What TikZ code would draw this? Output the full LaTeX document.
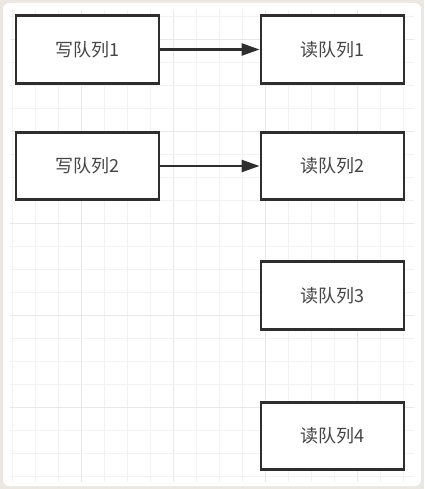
\documentclass[tikz,border=0pt]{standalone}
\usepackage{fontspec}
\newfontfamily\cjk{Noto Sans CJK SC}
\usetikzlibrary{arrows.meta}
\definecolor{frame}{HTML}{ECE8E1}
\definecolor{gridminor}{HTML}{F2F2F2}
\definecolor{gridmajor}{HTML}{E8E8E8}
\definecolor{ink}{HTML}{2E2E2E}
\definecolor{txt}{HTML}{454545}
\tikzset{
  qbox/.style={draw=ink, line width=2.8pt, fill=white, minimum width=143pt, minimum height=67.5pt, inner sep=0pt, font=\cjk\fontsize{18}{20}\selectfont, text=txt},
  link/.style={draw=ink, line width=2.4pt, -{Triangle[length=18pt,width=12pt]}}
}
\begin{document}
\begin{tikzpicture}[x=1pt,y=-1pt]
\useasboundingbox (0,0) rectangle (424,489);
\fill[frame] (0,0) rectangle (424,489);
\fill[white, rounded corners=6pt] (3,3) rectangle (421,486);
% grid
\foreach \i in {0,...,17} {
  \pgfmathsetmacro{\xx}{12.7+23*\i}
  \pgfmathtruncatemacro{\mj}{mod(\i+1,4)==0 ? 1 : 0}
  \ifnum\mj=1
    \draw[gridmajor, line width=1.1pt] (\xx,10) -- (\xx,482);
  \else
    \draw[gridminor, line width=1pt] (\xx,10) -- (\xx,482);
  \fi
}
\foreach \j in {0,...,20} {
  \pgfmathsetmacro{\yy}{16.3+23*\j}
  \pgfmathtruncatemacro{\mj}{mod(\j+3,4)==0 ? 1 : 0}
  \ifnum\mj=1
    \draw[gridmajor, line width=1.1pt] (10,\yy) -- (414,\yy);
  \else
    \draw[gridminor, line width=1pt] (10,\yy) -- (414,\yy);
  \fi
}
\node[qbox] (w1) at (87.5,49.5) {写队列1};
\node[qbox] (w2) at (87.5,166) {写队列2};
\node[qbox] (r1) at (332.5,49.5) {读队列1};
\node[qbox] (r2) at (332.5,166) {读队列2};
\node[qbox] (r3) at (332.5,295.5) {读队列3};
\node[qbox] (r4) at (332.5,436) {读队列4};
\draw[link] (w1.east) -- (r1.west);
\draw[link] (w2.east) -- (r2.west);
\end{tikzpicture}
\end{document}
